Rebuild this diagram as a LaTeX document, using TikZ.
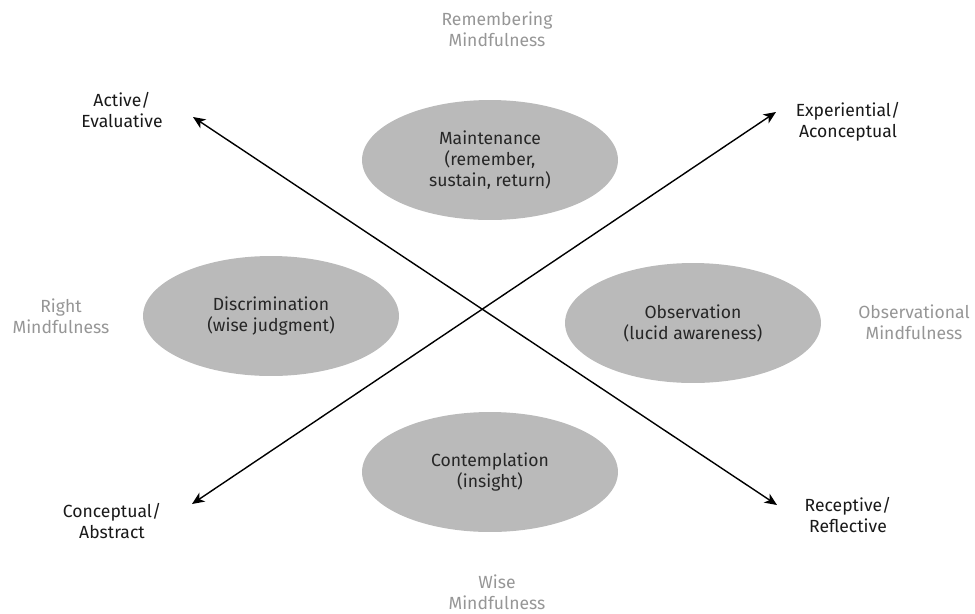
\documentclass[tikz,border=0pt]{standalone}
\usepackage{fontspec}
\setmainfont{Fira Sans}
\usetikzlibrary{shapes.geometric, arrows.meta}
\definecolor{zonefill}{RGB}{186,186,186}
\definecolor{mindgray}{RGB}{150,150,150}
\tikzset{zone/.style = {ellipse, fill=zonefill, minimum width=5.12cm,
    minimum height=2.4cm, inner sep=0pt, align=center, text=black!85}}
\tikzset{mind/.style = {align=center, text=mindgray}}
\tikzset{pole/.style = {align=center, text=black!90}}
\tikzset{axis/.style = {{Stealth[length=7pt,width=6pt,inset=2pt]}-{Stealth[length=7pt,width=6pt,inset=2pt]}, line width=0.8pt}}

\begin{document}
\begin{tikzpicture}[x=0.02cm, y=-0.02cm, font=\fontsize{10}{12}\selectfont]
      \useasboundingbox (0,0) rectangle (975,613);

      % the four practices
      \node[zone] (maintenance) at (490,160) {Maintenance\\(remember,\\sustain, return)};
      \node[zone] (discrimination) at (271,316) {Discrimination\\(wise judgment)};
      \node[zone] (observation) at (693,323) {Observation\\(lucid awareness)};
      \node[zone] (contemplation) at (490,472) {Contemplation\\(insight)};

      % kinds of mindfulness
      \node[mind] (remembering) at (497,29) {Remembering\\Mindfulness};
      \node[mind] (right) at (61,316) {Right\\Mindfulness};
      \node[mind] (observational) at (914,322) {Observational\\Mindfulness};
      \node[mind] (wise) at (497,592) {Wise\\Mindfulness};

      % ends of the two axes
      \node[pole] (active) at (122,110) {Active/\\Evaluative};
      \node[pole] (experiential) at (848,122) {Experiential/\\Aconceptual};
      \node[pole] (conceptual) at (112,521) {Conceptual/\\Abstract};
      \node[pole] (receptive) at (848,515) {Receptive/\\Reflective};

      \coordinate (activeTip) at (193,117);
      \coordinate (experientialTip) at (776,112);
      \coordinate (conceptualTip) at (192,504);
      \coordinate (receptiveTip) at (777,505);

      \draw[axis] (activeTip) -- (receptiveTip);
      \draw[axis] (conceptualTip) -- (experientialTip);
    \end{tikzpicture}
\end{document}
